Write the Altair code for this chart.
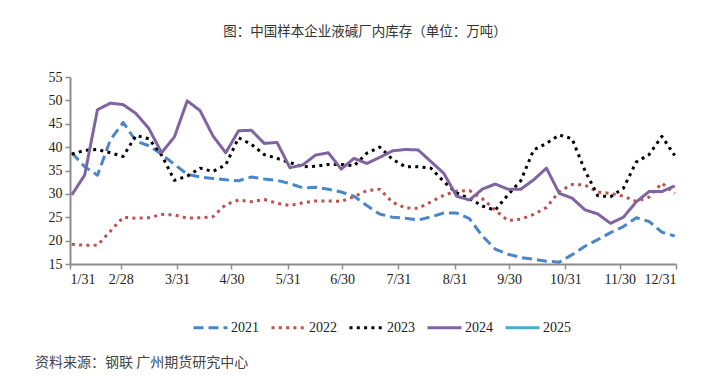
import altair as alt
import pandas as pd

title_text = "图：中国样本企业液碱厂内库存（单位：万吨）"
source_text = "资料来源：钢联 广州期货研究中心"

years = ["2021", "2022", "2023", "2024", "2025"]
colors = ["#4a86c8", "#c0504d", "#000000", "#8064a2", "#4bacc6"]
dashes = [[10, 5], [3, 4.3], [3, 4.3], [1, 0], [1, 0]]

tick_days = [31, 59, 90, 120, 151, 181, 212, 243, 273, 304, 334, 365]
tick_labels = ["1/31", "2/28", "3/31", "4/30", "5/31", "6/30",
               "7/31", "8/31", "9/30", "10/31", "11/30", "12/31"]

# weekly observation positions (day of year)
week_day = [round(32 + 7.07 * k, 2) for k in range(48)]

v2021 = [38.8, 35.8, 34.0, 41.5, 45.3, 41.3, 40.3, 38.5, 36.3, 34.2,
         33.6, 33.3, 33.0, 32.8, 33.6, 33.2, 32.9, 32.2, 31.3, 31.4,
         31.0, 30.4, 29.5, 27.5, 25.7, 25.0, 24.8, 24.4, 25.1, 25.9,
         25.9, 24.7, 21.0, 18.2, 17.1, 16.4, 16.0, 15.6, 15.4, 17.0,
         18.8, 20.2, 21.7, 23.0, 24.9, 24.1, 21.8, 21.0]
v2022 = [19.2, 19.0, 19.0, 22.0, 25.0, 24.8, 24.9, 25.6, 25.5, 24.8,
         24.9, 25.1, 27.7, 28.7, 28.3, 28.8, 28.0, 27.5, 28.1, 28.5,
         28.5, 28.4, 29.4, 30.7, 31.0, 28.2, 27.0, 26.9, 28.3, 29.7,
         30.6, 30.7, 29.0, 26.5, 24.3, 24.6, 25.6, 27.1, 30.5, 32.0,
         31.9, 30.4, 30.1, 29.5, 28.4, 29.3, 32.3, 30.1]
v2023 = [38.5, 39.3, 39.5, 38.8, 38.0, 42.5, 41.8, 38.3, 32.9, 33.8,
         35.5, 34.8, 36.2, 42.0, 40.6, 38.4, 37.6, 36.7, 35.8, 35.9,
         36.3, 36.3, 36.0, 38.7, 40.0, 37.4, 35.8, 35.8, 35.5, 32.6,
         30.2, 29.0, 27.4, 26.5, 29.8, 32.8, 39.4, 40.8, 42.6, 41.8,
         35.0, 29.6, 29.4, 31.2, 36.8, 38.4, 42.3, 38.2]
v2024 = [29.8, 34.0, 48.0, 49.4, 49.1, 47.2, 44.0, 38.8, 42.2, 49.9,
         47.8, 42.4, 38.8, 43.5, 43.6, 40.8, 41.0, 35.6, 36.2, 38.3,
         38.8, 35.3, 37.6, 36.5, 37.8, 39.2, 39.5, 39.4, 36.9, 34.4,
         29.5, 28.7, 31.0, 32.1, 31.0, 31.0, 33.0, 35.5, 30.1, 29.1,
         26.6, 25.7, 23.7, 25.0, 28.3, 30.5, 30.5, 31.7]

rows = []
for yr, vals in [("2021", v2021), ("2022", v2022), ("2023", v2023), ("2024", v2024)]:
    for d, v in zip(week_day, vals):
        rows.append({"year": yr, "day": d, "value": v})
df = pd.DataFrame(rows)

label_expr = "[" + ",".join("'%s'" % s for s in tick_labels) + "][indexof([" + \
    ",".join(str(d) for d in tick_days) + "], datum.value)]"

axis_common = dict(
    title=None, grid=False, domainColor="#8c8c8c", domainWidth=2,
    tickColor="#8c8c8c", tickWidth=1.5, tickSize=5,
    labelFont="Liberation Serif", labelFontSize=14, labelColor="#222",
)

legend = alt.Legend(
    title=None, orient="none", legendX=122, legendY=232, direction="horizontal",
    symbolType="stroke", symbolSize=1156, symbolStrokeWidth=3,
    labelFont="Liberation Serif", labelFontSize=14, labelColor="#222",
    labelOffset=2, columnPadding=6, padding=0,
)

lines = alt.Chart(df).mark_line(strokeWidth=3, strokeCap="butt", strokeJoin="round").encode(
    x=alt.X("day:Q", scale=alt.Scale(domain=[31, 365], nice=False, zero=False),
            axis=alt.Axis(values=tick_days, labelExpr=label_expr, labelPadding=3, **axis_common)),
    y=alt.Y("value:Q", scale=alt.Scale(domain=[15, 55], nice=False, zero=False),
            axis=alt.Axis(values=list(range(15, 56, 5)), labelPadding=3, **axis_common)),
    color=alt.Color("year:N", scale=alt.Scale(domain=years, range=colors), legend=legend),
    strokeDash=alt.StrokeDash("year:N", scale=alt.Scale(domain=years, range=dashes), legend=legend),
    order="day:Q",
)

title_layer = alt.Chart(pd.DataFrame({"t": [title_text]})).mark_text(
    font="Noto Sans CJK SC", fontSize=13.5, color="#333", align="center", baseline="middle"
).encode(text="t:N", x=alt.value(295), y=alt.value(-45))

source_layer = alt.Chart(pd.DataFrame({"t": [source_text]})).mark_text(
    font="Noto Sans CJK SC", fontSize=14, color="#444", align="left", baseline="middle"
).encode(text="t:N", x=alt.value(-35), y=alt.value(286))

chart = alt.layer(lines, title_layer, source_layer).properties(
    width=606, height=187,
    padding={"left": 62, "top": 69, "right": 43, "bottom": 106},
    autosize=alt.AutoSizeParams(type="none"),
).configure_view(stroke=None)

chart.save("out.html", embed_options={"renderer": "svg", "actions": False})
